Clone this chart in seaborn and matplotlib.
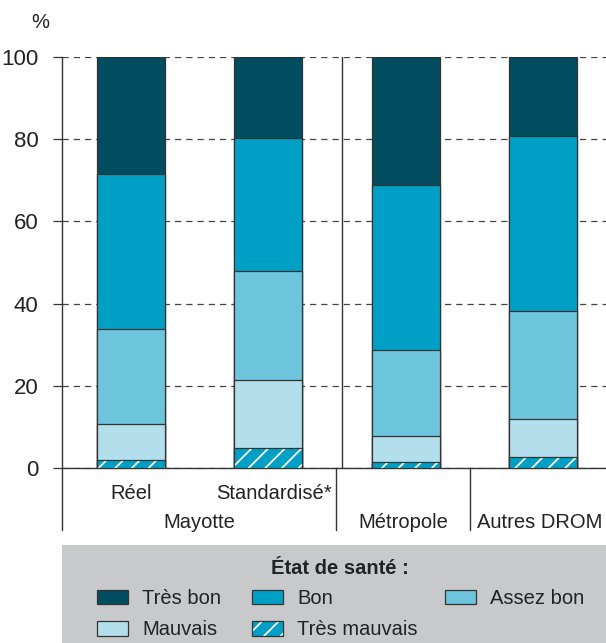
import numpy as np
import pandas as pd
import seaborn as sns
import matplotlib.pyplot as plt
import matplotlib.transforms as mtrans
from matplotlib.patches import Patch, Rectangle

# ---- data ----
groups = ["Réel", "Standardisé*", "Métropole", "Autres DROM"]
tres_bon = [28.5, 19.7, 31.1, 19.2]
bon = [37.7, 32.4, 40.2, 42.6]
assez_bon = [23.0, 26.5, 20.9, 26.3]
mauvais = [8.9, 16.5, 6.3, 9.2]
tres_mauvais = [1.9, 4.9, 1.5, 2.7]
series_names = ["Très bon", "Bon", "Assez bon", "Mauvais", "Très mauvais"]
row1_labels = ["Réel", "Standardisé*"]
row2_labels = ["Mayotte", "Métropole", "Autres DROM"]
legend_title = "État de santé :"
yticks = [0, 20, 40, 60, 80, 100]

# ---- style ----
sns.set_theme(style="white")
plt.rcParams['font.family'] = ['Liberation Sans', 'DejaVu Sans']
plt.rcParams['hatch.color'] = 'white'
plt.rcParams['hatch.linewidth'] = 1.3
TXT = '#222222'
EDGE = '#333333'
colors = {"Très bon": "#004d60", "Bon": "#00a0c6", "Assez bon": "#6cc5dd",
          "Mauvais": "#b3deeb", "Très mauvais": "#00a0c6"}

df = pd.DataFrame({"groupe": groups, "Très bon": tres_bon, "Bon": bon,
                   "Assez bon": assez_bon, "Mauvais": mauvais,
                   "Très mauvais": tres_mauvais})

W, H = 606, 643
fig = plt.figure(figsize=(W / 100, H / 100), dpi=100)
ax = fig.add_axes([62 / W, 1 - 468 / H, 544 / W, 411 / H])

# stacked bars drawn as overlapping cumulative bars (top layer first)
bottom_up = ["Très mauvais", "Mauvais", "Assez bon", "Bon", "Très bon"]
cum = {}
running = np.zeros(len(groups))
for name in bottom_up:
    running = running + df[name].to_numpy()
    cum[name] = running.copy()

BW = 0.495
for name in ["Très bon", "Bon", "Assez bon", "Mauvais"]:
    sns.barplot(x=df["groupe"], y=cum[name], order=groups, color=colors[name],
                saturation=1, width=BW, edgecolor=EDGE, linewidth=0.9,
                ax=ax, zorder=3)
n_before = len(ax.patches)
sns.barplot(x=df["groupe"], y=cum["Très mauvais"], order=groups,
            color=colors["Très mauvais"], saturation=1, width=BW,
            edgecolor='white', linewidth=0, hatch='//', ax=ax, zorder=3)
for p in list(ax.patches[n_before:]):
    ax.add_patch(Rectangle(p.get_xy(), p.get_width(), p.get_height(),
                           fill=False, edgecolor=EDGE, linewidth=0.9, zorder=3.5))

ax.set_ylim(0, 100)
ax.set_xlim(-0.502, 3.458)
ax.set_yticks(yticks)
ax.set_xticks([])
ax.set_xlabel('')
ax.set_ylabel('')
ax.yaxis.grid(True, linestyle=(0, (5, 4)), color='#444444', linewidth=0.9)
ax.set_axisbelow(True)
for s in ['top', 'right']:
    ax.spines[s].set_visible(False)
for s in ['left', 'bottom']:
    ax.spines[s].set_color(EDGE)
    ax.spines[s].set_linewidth(1.0)
ax.tick_params(axis='y', length=6.5, width=0.9, color=EDGE, pad=10.5,
               labelsize=16, labelcolor=TXT, left=True)

# separators
ax.axvline(1.535, color=EDGE, linewidth=1.0, zorder=2.5)
blend = mtrans.blended_transform_factory(ax.transData, ax.transAxes)
ax.plot([0, 0], [0, -0.151], transform=ax.transAxes, color=EDGE, lw=1.0, clip_on=False)
for xs in [1.491, 2.465]:
    ax.plot([xs, xs], [0, -0.151], transform=blend, color=EDGE, lw=1.0, clip_on=False)

# category labels
for lab, xp in zip(row1_labels, [0.0, 1.04]):
    ax.text(xp, -0.062, lab, transform=blend, ha='center', va='center',
            fontsize=14.5, color=TXT)
for lab, xp in zip(row2_labels, [0.495, 1.985, 2.975]):
    ax.text(xp, -0.132, lab, transform=blend, ha='center', va='center',
            fontsize=14.5, color=TXT)

fig.text(40 / W, 1 - 23 / H, '%', ha='center', va='center', fontsize=14.5, color=TXT)

# legend background and title
fig.patches.append(Rectangle((62 / W, 0), 544 / W, 98 / H, transform=fig.transFigure,
                             facecolor='#c8c9cb', edgecolor='none', zorder=0))
fig.text(340 / W, 1 - 568 / H, legend_title, ha='center', va='center',
         fontsize=14.5, fontweight='bold', color=TXT)

def handle(name):
    if name == "Très mauvais":
        return (Patch(facecolor=colors[name], edgecolor='white', linewidth=0, hatch='//'),
                Patch(facecolor='none', edgecolor=EDGE, linewidth=0.9))
    return Patch(facecolor=colors[name], edgecolor=EDGE, linewidth=0.9)

leg_cols = [["Très bon", "Mauvais"], ["Bon", "Très mauvais"], ["Assez bon"]]
col_x = [97, 252, 445]
for names, xpx in zip(leg_cols, col_x):
    leg = fig.legend([handle(n) for n in names], names,
                     loc='upper left', bbox_to_anchor=(xpx / W, 1 - 589 / H),
                     ncol=1, fontsize=14.5, frameon=False, borderaxespad=0,
                     borderpad=0, handlelength=1.55, handleheight=0.75,
                     handletextpad=0.7, labelspacing=0.62)
    for t in leg.get_texts():
        t.set_color(TXT)

fig.savefig('out.png', dpi=100)
